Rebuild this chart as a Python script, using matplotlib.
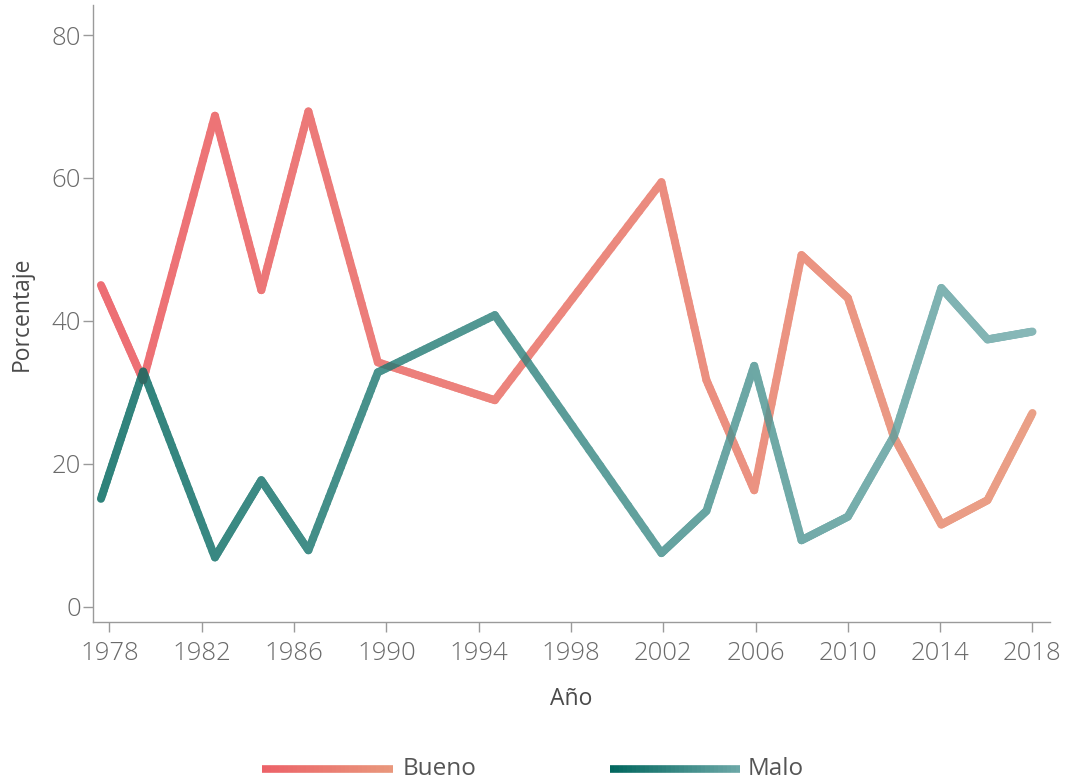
import numpy as np
import matplotlib
matplotlib.use("Agg")
import matplotlib.pyplot as plt
from matplotlib.collections import LineCollection
from matplotlib.colors import LinearSegmentedColormap

# ---- data ----
years = [1977.63, 1979.46, 1982.57, 1984.58, 1986.62, 1989.63, 1994.70,
         2001.92, 2003.87, 2005.94, 2007.99, 2010.0, 2012.0, 2014.05,
         2016.05, 2018.0]
bueno = [45.0, 31.7, 68.7, 44.3, 69.3, 34.2, 28.9,
         59.4, 31.7, 16.3, 49.2, 43.2, 23.7, 11.5, 14.9, 27.1]
malo = [15.1, 32.9, 6.9, 17.7, 7.9, 32.8, 40.8,
        7.5, 13.4, 33.7, 9.3, 12.6, 23.9, 44.6, 37.4, 38.5]
series_names = ["Bueno", "Malo"]
xticks = [1978, 1982, 1986, 1990, 1994, 1998, 2002, 2006, 2010, 2014, 2018]
yticks = [0, 20, 40, 60, 80]

bueno_cmap = LinearSegmentedColormap.from_list("b", ["#EC6168", "#E9987C"])
malo_cmap = LinearSegmentedColormap.from_list("m", ["#00665D", "#6DA8A8"])

plt.rcParams['font.family'] = ['Open Sans', 'DejaVu Sans']

fig = plt.figure(figsize=(10.65, 7.82), dpi=100)
ax = fig.add_axes([93/1065, 1-622/782, (1050-93)/1065, (622-5)/782])


def group_alpha(a):
    def f(im, dpi):
        im = im.copy()
        im[..., 3] *= a
        return im, 0, 0
    return f


def gradient_line(xs, ys, cmap, lw, transform=None, alpha=1.0, zorder=3):
    xs = np.asarray(xs, float)
    ys = np.asarray(ys, float)
    segs, cols = [], []
    xmin, xmax = xs.min(), xs.max()
    for i in range(len(xs) - 1):
        n = 30
        t = np.linspace(0, 1, n + 1)
        px = xs[i] + (xs[i+1] - xs[i]) * t
        py = ys[i] + (ys[i+1] - ys[i]) * t
        for j in range(n):
            segs.append([(px[j], py[j]), (px[j+1], py[j+1])])
            xm = 0.5 * (px[j] + px[j+1])
            cols.append(cmap((xm - xmin) / (xmax - xmin)))
    kw = {}
    if transform is not None:
        kw['transform'] = transform
    lc = LineCollection(segs, colors=cols, linewidths=lw, capstyle='round',
                        joinstyle='round', zorder=zorder, **kw)
    if alpha < 1:
        lc.set_agg_filter(group_alpha(alpha))
    return lc


ax.add_collection(gradient_line(years, bueno, bueno_cmap, 5.8, alpha=0.92))
ax.add_collection(gradient_line(years, malo, malo_cmap, 5.8, alpha=0.82, zorder=4))

ax.set_xlim(1977.285, 2018.76)
ax.set_ylim(-2.14, 84.2)
ax.set_xticks(xticks)
ax.set_yticks(yticks)
ax.set_xticklabels([str(v) for v in xticks])

for s in ['top', 'right']:
    ax.spines[s].set_visible(False)
for s in ['left', 'bottom']:
    ax.spines[s].set_color('#9a9a9a')
    ax.spines[s].set_linewidth(1.0)

ax.tick_params(axis='both', direction='out', length=7.5, width=1.0,
               color='#9a9a9a', labelcolor='#6a6a6a', labelsize=18.5)
ax.tick_params(axis='y', pad=1)
ax.tick_params(axis='x', pad=6)
for lbl in ax.get_xticklabels() + ax.get_yticklabels():
    lbl.set_fontweight('light')

ax.set_xlabel('Año', fontsize=16.5, color='#4a4a4a', labelpad=15)
ax.set_ylabel('Porcentaje', fontsize=16.5, color='#4a4a4a', labelpad=13)

# ---- legend (gradient swatches) ----
W, H = 1065, 782
leg = [(262, 393, 403, series_names[0], bueno_cmap),
       (610, 740, 748, series_names[1], malo_cmap)]
for x0, x1, tx, name, cm in leg:
    lx = np.array([x0, x1]) / W
    ly = np.array([1 - 769/H, 1 - 769/H])
    lc = gradient_line(lx, ly, cm, 5.5, transform=fig.transFigure)
    lc.set_capstyle('butt')
    fig.add_artist(lc)
    fig.text(tx / W, 1 - 769/H, name, fontsize=17.5, color='#555555',
             va='center', ha='left')

fig.savefig('out.png', dpi=100)
